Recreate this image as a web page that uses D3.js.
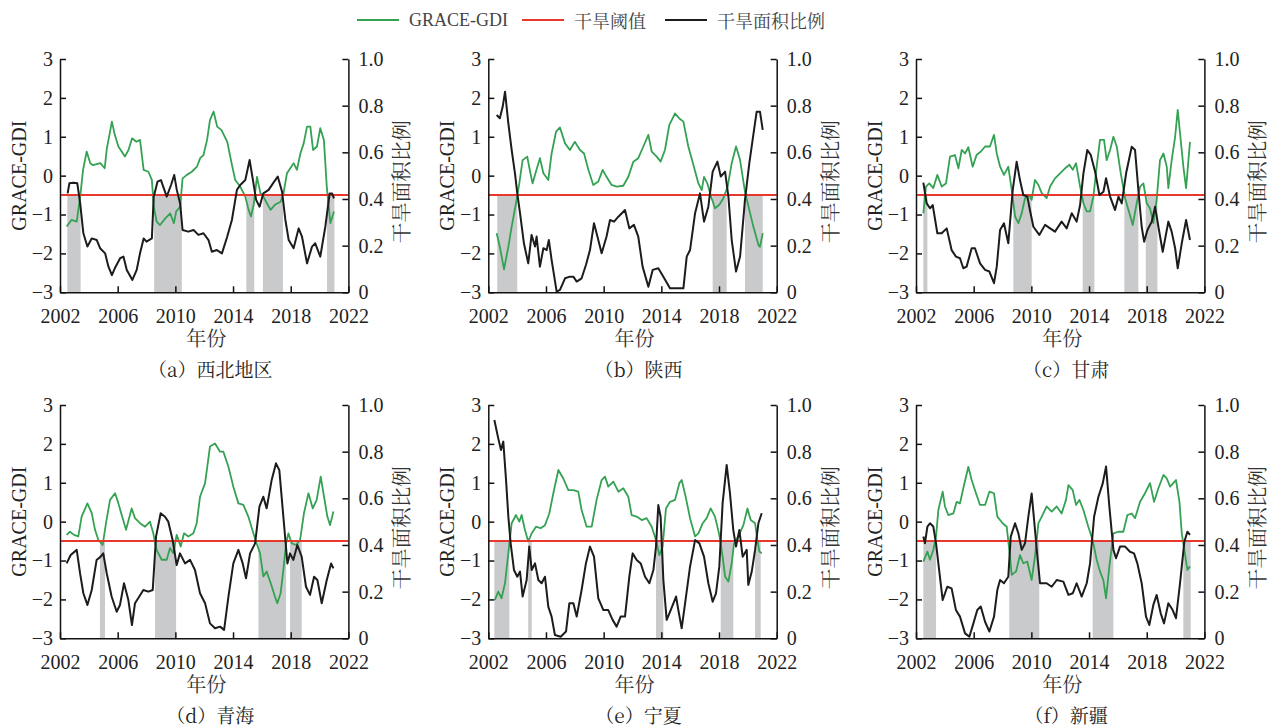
<!DOCTYPE html>
<html><head><meta charset="utf-8">
<script src="https://cdn.jsdelivr.net/npm/d3@7"></script>
<style>body{margin:0;background:#fff}</style>
</head><body>
<svg id="c" width="1280" height="728"></svg>
<script>
// ---------- DATA (decimal year, value) ----------
const panelLabels = ["（a）西北地区","（b）陕西","（c）甘肃","（d）青海","（e）宁夏","（f）新疆"];
const xTicks = [2002,2006,2010,2014,2018,2022];
const gdiTicks = [-3,-2,-1,0,1,2,3];
const ratioTicks = [0,0.2,0.4,0.6,0.8,1.0];
const droughtThreshold = -0.5;
const legendLabels = ["GRACE-GDI","干旱阈值","干旱面积比例"];

const gdi_a = [[2002.46,-1.31],[2002.8,-1.14],[2003.16,-1.18],[2003.4,-0.54],[2003.6,0.15],[2003.85,0.62],[2004.1,0.32],[2004.3,0.27],[2004.8,0.32],[2005.1,0.19],[2005.25,0.70],[2005.6,1.39],[2005.8,1.05],[2006.05,0.75],[2006.5,0.49],[2006.75,0.66],[2007.0,0.96],[2007.3,0.87],[2007.55,0.92],[2007.8,0.15],[2008.13,0.10],[2008.37,-0.11],[2008.5,-0.80],[2008.7,-1.18],[2008.94,-1.27],[2009.3,-1.10],[2009.64,-0.97],[2009.9,-1.22],[2010.06,-0.92],[2010.33,-0.80],[2010.5,-0.07],[2010.8,0.02],[2011.14,0.10],[2011.5,0.23],[2011.72,0.45],[2011.95,0.53],[2012.2,0.92],[2012.4,1.43],[2012.65,1.65],[2012.9,1.26],[2013.2,1.17],[2013.6,0.87],[2013.9,0.32],[2014.15,-0.11],[2014.5,-0.28],[2014.85,-0.54],[2015.08,-0.88],[2015.24,-1.05],[2015.43,-0.75],[2015.66,-0.03],[2015.9,-0.45],[2016.1,-0.54],[2016.35,-0.71],[2016.6,-0.88],[2016.9,-0.75],[2017.3,-0.67],[2017.5,-0.45],[2017.74,0.06],[2017.97,0.19],[2018.2,0.32],[2018.43,0.15],[2018.67,0.57],[2018.9,0.83],[2019.13,1.26],[2019.36,1.26],[2019.55,0.66],[2019.82,0.75],[2020.05,1.22],[2020.3,0.92],[2020.5,-0.28],[2020.75,-1.22],[2021.0,-0.92]];
const ratio_a = [[2002.53,0.424],[2002.65,0.467],[2002.93,0.47],[2003.2,0.467],[2003.4,0.381],[2003.62,0.253],[2003.9,0.196],[2004.2,0.231],[2004.55,0.224],[2004.78,0.189],[2005.13,0.167],[2005.36,0.11],[2005.6,0.074],[2005.8,0.103],[2006.17,0.146],[2006.4,0.153],[2006.63,0.096],[2007.02,0.053],[2007.32,0.096],[2007.55,0.167],[2007.8,0.231],[2008.0,0.217],[2008.37,0.231],[2008.5,0.41],[2008.76,0.474],[2009.0,0.481],[2009.4,0.41],[2009.7,0.46],[2009.92,0.503],[2010.1,0.439],[2010.33,0.381],[2010.5,0.267],[2010.9,0.26],[2011.26,0.267],[2011.6,0.246],[2011.95,0.253],[2012.3,0.224],[2012.53,0.174],[2012.88,0.181],[2013.23,0.167],[2013.6,0.239],[2013.92,0.31],[2014.27,0.439],[2014.5,0.46],[2014.85,0.481],[2015.15,0.567],[2015.38,0.481],[2015.6,0.396],[2015.84,0.367],[2016.1,0.424],[2016.47,0.439],[2016.77,0.467],[2017.1,0.496],[2017.4,0.431],[2017.63,0.31],[2017.86,0.224],[2018.2,0.189],[2018.55,0.274],[2018.78,0.239],[2019.13,0.124],[2019.48,0.196],[2019.7,0.21],[2020.05,0.153],[2020.4,0.281],[2020.7,0.424],[2020.87,0.424],[2021.0,0.403]];
const drought_a = [[2002.51,2003.43],[2008.53,2010.45],[2014.92,2015.47],[2016.07,2017.46],[2020.52,2021.03]];

const gdi_b = [[2002.58,-1.48],[2002.8,-1.83],[2003.09,-2.41],[2003.39,-1.83],[2003.62,-1.31],[2003.92,-0.71],[2004.15,-0.20],[2004.38,0.40],[2004.7,0.49],[2004.9,0.10],[2005.07,-0.20],[2005.3,0.10],[2005.58,0.45],[2005.82,0.06],[2006.16,-0.11],[2006.39,0.57],[2006.7,1.13],[2006.97,1.24],[2007.32,0.83],[2007.66,0.66],[2008.0,0.87],[2008.36,0.66],[2008.64,0.57],[2008.94,0.15],[2009.28,-0.24],[2009.63,-0.15],[2009.93,0.15],[2010.2,-0.03],[2010.55,-0.24],[2010.9,-0.28],[2011.36,-0.26],[2011.71,-0.03],[2012.06,0.36],[2012.4,0.45],[2012.75,0.75],[2013.1,1.05],[2013.33,0.62],[2013.68,0.49],[2013.95,0.36],[2014.25,0.66],[2014.55,1.30],[2014.95,1.60],[2015.25,1.47],[2015.53,1.39],[2015.87,0.75],[2016.22,0.28],[2016.57,-0.20],[2016.8,-0.37],[2016.96,-0.03],[2017.19,-0.20],[2017.49,-0.58],[2017.72,-0.84],[2018.02,-0.75],[2018.3,-0.58],[2018.6,-0.28],[2018.88,0.32],[2019.18,0.75],[2019.46,0.40],[2019.8,-0.41],[2020.1,-0.88],[2020.38,-1.31],[2020.73,-1.78],[2020.84,-1.83],[2021.03,-1.48]];
const ratio_b = [[2002.58,0.76],[2002.8,0.746],[2003.0,0.796],[2003.16,0.86],[2003.39,0.724],[2003.62,0.61],[2003.85,0.51],[2004.01,0.424],[2004.2,0.339],[2004.47,0.21],[2004.77,0.124],[2005.0,0.246],[2005.24,0.196],[2005.35,0.239],[2005.58,0.11],[2005.82,0.189],[2006.05,0.181],[2006.2,0.224],[2006.39,0.139],[2006.74,0.003],[2006.97,0.01],[2007.32,0.06],[2007.66,0.067],[2007.9,0.067],[2008.13,0.046],[2008.47,0.06],[2008.77,0.117],[2009.05,0.181],[2009.33,0.296],[2009.51,0.253],[2009.86,0.167],[2010.2,0.239],[2010.44,0.31],[2010.72,0.303],[2011.02,0.324],[2011.48,0.353],[2011.78,0.274],[2012.1,0.289],[2012.4,0.239],[2012.7,0.11],[2013.1,0.024],[2013.4,0.096],[2013.79,0.103],[2014.14,0.067],[2014.6,0.017],[2015.18,0.017],[2015.53,0.017],[2015.76,0.153],[2015.99,0.181],[2016.34,0.339],[2016.68,0.424],[2016.96,0.303],[2017.26,0.367],[2017.56,0.517],[2017.89,0.56],[2018.12,0.496],[2018.42,0.517],[2018.65,0.41],[2018.88,0.224],[2019.18,0.089],[2019.46,0.153],[2019.8,0.396],[2020.1,0.553],[2020.33,0.653],[2020.61,0.774],[2020.84,0.774],[2021.03,0.696]];
const drought_b = [[2002.62,2004.01],[2017.56,2018.53],[2019.8,2021.03]];

const gdi_c = [[2002.51,-0.97],[2002.69,-0.28],[2002.92,-0.20],[2003.2,-0.32],[2003.48,0.02],[2003.78,-0.28],[2004.08,-0.20],[2004.36,0.49],[2004.7,0.53],[2004.94,0.19],[2005.17,0.66],[2005.4,0.57],[2005.63,0.73],[2005.93,0.23],[2006.2,0.53],[2006.5,0.62],[2006.79,0.75],[2007.13,0.75],[2007.41,1.05],[2007.6,0.57],[2007.83,0.23],[2008.1,0.02],[2008.4,0.23],[2008.64,-0.37],[2008.87,-1.05],[2009.1,-1.22],[2009.33,-0.97],[2009.56,-0.58],[2009.86,-0.50],[2010.02,-0.62],[2010.25,-0.11],[2010.49,-0.24],[2010.72,-0.45],[2011.06,-0.58],[2011.3,-0.28],[2011.64,-0.07],[2011.99,0.06],[2012.34,0.19],[2012.64,0.28],[2012.87,0.15],[2013.1,0.32],[2013.38,-0.28],[2013.61,-0.71],[2013.84,-0.92],[2014.07,-0.92],[2014.3,-0.54],[2014.53,0.23],[2014.76,0.92],[2015.04,0.92],[2015.22,0.40],[2015.46,0.66],[2015.69,1.00],[2015.92,0.75],[2016.2,0.06],[2016.5,-0.58],[2016.73,-0.88],[2017.03,-1.27],[2017.26,-0.80],[2017.54,-0.28],[2017.77,-0.20],[2018.0,-0.71],[2018.23,-0.84],[2018.46,-1.22],[2018.69,-0.62],[2018.92,0.40],[2019.16,0.57],[2019.39,0.23],[2019.5,-0.32],[2019.73,0.40],[2019.97,1.00],[2020.15,1.69],[2020.31,1.09],[2020.54,0.23],[2020.73,-0.32],[2021.0,0.87]];
const ratio_c = [[2002.51,0.47],[2002.74,0.381],[2002.97,0.36],[2003.16,0.374],[2003.48,0.253],[2003.78,0.253],[2004.13,0.274],[2004.47,0.181],[2004.77,0.153],[2005.05,0.146],[2005.28,0.103],[2005.51,0.11],[2005.86,0.189],[2006.09,0.189],[2006.44,0.124],[2006.79,0.096],[2007.09,0.089],[2007.41,0.039],[2007.6,0.11],[2007.83,0.267],[2008.1,0.296],[2008.4,0.21],[2008.71,0.439],[2008.98,0.56],[2009.21,0.481],[2009.44,0.417],[2009.72,0.41],[2009.9,0.353],[2010.14,0.281],[2010.55,0.246],[2010.95,0.289],[2011.3,0.274],[2011.64,0.26],[2012.1,0.303],[2012.45,0.274],[2012.8,0.339],[2013.14,0.303],[2013.38,0.374],[2013.61,0.51],[2013.88,0.61],[2014.12,0.589],[2014.42,0.517],[2014.72,0.417],[2015.0,0.431],[2015.18,0.489],[2015.46,0.41],[2015.8,0.353],[2016.04,0.41],[2016.27,0.381],[2016.57,0.51],[2016.96,0.624],[2017.19,0.61],[2017.42,0.439],[2017.65,0.281],[2017.82,0.217],[2018.05,0.267],[2018.35,0.303],[2018.58,0.367],[2018.81,0.281],[2019.11,0.174],[2019.5,0.303],[2019.73,0.26],[2019.97,0.189],[2020.15,0.103],[2020.43,0.21],[2020.73,0.31],[2021.0,0.224]];
const drought_c = [[2002.51,2002.79],[2008.75,2010.02],[2013.56,2014.37],[2016.45,2017.42],[2017.93,2018.74]];

const gdi_d = [[2002.46,-0.34],[2002.69,-0.26],[2002.97,-0.34],[2003.27,-0.38],[2003.5,0.13],[2003.9,0.47],[2004.2,0.22],[2004.43,-0.21],[2004.66,-0.47],[2004.96,-0.60],[2005.19,-0.04],[2005.47,0.56],[2005.82,0.73],[2006.05,0.47],[2006.28,0.17],[2006.58,-0.21],[2006.97,0.34],[2007.2,0.09],[2007.55,-0.04],[2007.9,-0.13],[2008.24,0.0],[2008.47,-0.30],[2008.7,-0.73],[2009.05,-0.98],[2009.4,-0.98],[2009.63,-0.68],[2009.86,-0.81],[2010.09,-0.34],[2010.37,-0.64],[2010.6,-0.30],[2010.9,-0.38],[2011.25,-0.30],[2011.48,-0.04],[2011.71,0.64],[2012.06,0.99],[2012.4,1.93],[2012.75,2.01],[2013.1,1.80],[2013.33,1.80],[2013.68,1.41],[2014.02,0.90],[2014.37,0.47],[2014.72,0.43],[2015.06,0.13],[2015.41,-0.30],[2015.64,-0.56],[2015.87,-0.81],[2016.1,-1.41],[2016.33,-1.28],[2016.61,-1.58],[2016.91,-1.93],[2017.07,-2.10],[2017.3,-1.84],[2017.49,-1.24],[2017.68,-0.56],[2017.84,-0.30],[2018.07,-0.56],[2018.37,-0.60],[2018.65,-0.47],[2018.92,0.22],[2019.23,0.73],[2019.53,0.34],[2019.8,0.56],[2020.08,1.16],[2020.31,0.64],[2020.54,0.13],[2020.73,-0.09],[2020.96,0.26]];
const ratio_d = [[2002.46,0.321],[2002.74,0.357],[2003.16,0.379],[2003.39,0.279],[2003.62,0.193],[2003.9,0.143],[2004.2,0.207],[2004.54,0.336],[2004.82,0.35],[2005.0,0.364],[2005.24,0.279],[2005.58,0.179],[2005.93,0.114],[2006.16,0.143],[2006.44,0.236],[2006.74,0.164],[2006.99,0.057],[2007.2,0.15],[2007.5,0.179],[2007.78,0.207],[2008.13,0.2],[2008.43,0.207],[2008.66,0.436],[2008.98,0.536],[2009.28,0.521],[2009.51,0.5],[2009.81,0.421],[2010.09,0.314],[2010.32,0.364],[2010.67,0.321],[2011.02,0.336],[2011.36,0.293],[2011.71,0.193],[2012.06,0.15],[2012.4,0.064],[2012.75,0.043],[2013.1,0.05],[2013.38,0.036],[2013.68,0.179],[2014.02,0.321],[2014.37,0.379],[2014.67,0.321],[2014.9,0.257],[2015.18,0.364],[2015.53,0.407],[2015.83,0.564],[2016.1,0.607],[2016.33,0.557],[2016.68,0.679],[2016.98,0.75],[2017.21,0.721],[2017.49,0.521],[2017.77,0.321],[2017.95,0.364],[2018.18,0.336],[2018.46,0.4],[2018.76,0.35],[2019.06,0.221],[2019.34,0.186],[2019.62,0.264],[2019.85,0.25],[2020.15,0.15],[2020.5,0.25],[2020.8,0.321],[2020.96,0.3]];
const drought_d = [[2004.77,2005.12],[2008.59,2010.05],[2015.76,2017.68],[2017.95,2018.76]];

const gdi_e = [[2002.46,-2.01],[2002.69,-1.80],[2002.92,-1.97],[2003.16,-1.58],[2003.39,-0.81],[2003.62,-0.04],[2003.92,0.17],[2004.15,0.0],[2004.31,0.17],[2004.54,-0.21],[2004.77,-0.51],[2005.01,-0.30],[2005.31,-0.13],[2005.63,-0.17],[2005.93,-0.09],[2006.23,0.21],[2006.51,0.73],[2006.86,1.33],[2007.2,1.11],[2007.55,0.81],[2007.9,0.81],[2008.24,0.77],[2008.47,0.30],[2008.82,-0.13],[2009.17,-0.13],[2009.51,0.56],[2009.86,1.07],[2010.09,1.16],[2010.32,0.90],[2010.67,1.03],[2011.02,0.77],[2011.36,0.86],[2011.71,0.64],[2011.94,0.17],[2012.29,0.13],[2012.64,0.04],[2012.98,0.09],[2013.33,-0.13],[2013.63,-0.47],[2013.86,-0.86],[2014.09,-0.64],[2014.32,0.34],[2014.6,0.51],[2014.95,0.56],[2015.25,0.99],[2015.41,1.07],[2015.71,0.60],[2015.99,0.09],[2016.34,-0.38],[2016.57,-0.30],[2016.87,-0.04],[2017.14,0.09],[2017.42,0.34],[2017.72,0.13],[2018.02,-0.34],[2018.25,-0.90],[2018.42,-1.41],[2018.65,-1.54],[2018.88,-1.07],[2019.04,-0.56],[2019.34,-0.38],[2019.69,-0.09],[2019.97,0.34],[2020.2,0.04],[2020.5,-0.04],[2020.66,-0.47],[2020.8,-0.77],[2020.96,-0.81]];
const ratio_e = [[2002.42,0.936],[2002.69,0.857],[2002.88,0.807],[2003.04,0.843],[2003.23,0.679],[2003.39,0.521],[2003.55,0.407],[2003.78,0.293],[2004.01,0.264],[2004.2,0.286],[2004.38,0.179],[2004.66,0.25],[2004.84,0.393],[2005.01,0.293],[2005.24,0.321],[2005.47,0.25],[2005.7,0.236],[2005.93,0.264],[2006.16,0.136],[2006.39,0.093],[2006.62,0.014],[2007.02,0.007],[2007.39,0.029],[2007.62,0.15],[2007.9,0.15],[2008.13,0.093],[2008.47,0.207],[2008.77,0.321],[2009.05,0.393],[2009.33,0.35],[2009.63,0.171],[2009.98,0.121],[2010.32,0.121],[2010.62,0.079],[2010.9,0.05],[2011.18,0.093],[2011.48,0.093],[2011.78,0.264],[2012.01,0.364],[2012.29,0.336],[2012.57,0.321],[2012.87,0.264],[2013.17,0.236],[2013.45,0.293],[2013.63,0.393],[2013.79,0.571],[2013.95,0.521],[2014.14,0.25],[2014.37,0.079],[2014.65,0.121],[2015.02,0.179],[2015.18,0.121],[2015.41,0.043],[2015.71,0.179],[2015.99,0.307],[2016.34,0.421],[2016.64,0.407],[2016.96,0.35],[2017.26,0.236],[2017.56,0.157],[2017.79,0.193],[2018.02,0.307],[2018.25,0.579],[2018.53,0.743],[2018.76,0.621],[2018.99,0.464],[2019.18,0.393],[2019.41,0.464],[2019.64,0.35],[2019.92,0.379],[2020.03,0.229],[2020.27,0.286],[2020.5,0.379],[2020.73,0.493],[2020.96,0.536]];
const drought_e = [[2002.42,2003.46],[2004.77,2005.01],[2013.63,2014.14],[2018.12,2018.99],[2020.5,2020.89]];

const gdi_f = [[2002.51,-1.03],[2002.79,-0.77],[2002.97,-0.98],[2003.2,-0.73],[2003.39,-0.38],[2003.55,0.30],[2003.85,0.77],[2004.01,0.39],[2004.24,0.17],[2004.59,0.21],[2004.82,0.51],[2005.05,0.47],[2005.28,0.86],[2005.63,1.41],[2005.86,1.07],[2006.16,0.73],[2006.44,0.43],[2006.79,0.43],[2007.09,0.77],[2007.41,0.73],[2007.64,0.13],[2008.01,-0.04],[2008.29,-0.13],[2008.47,-0.73],[2008.64,-1.37],[2008.94,-1.28],[2009.21,-0.86],[2009.44,-1.07],[2009.72,-1.03],[2010.02,-1.50],[2010.25,-0.90],[2010.49,-0.04],[2010.72,0.13],[2011.06,0.39],[2011.41,0.26],[2011.76,0.39],[2012.1,0.21],[2012.4,0.56],[2012.57,0.94],[2012.87,0.81],[2013.1,0.43],[2013.33,0.56],[2013.61,0.30],[2013.95,-0.13],[2014.25,-0.47],[2014.53,-0.98],[2014.76,-1.28],[2014.99,-1.50],[2015.18,-1.97],[2015.41,-1.15],[2015.69,-0.30],[2016.03,-0.26],[2016.38,-0.26],[2016.66,0.17],[2016.96,0.21],[2017.19,0.09],[2017.54,0.51],[2017.88,0.73],[2018.23,0.99],[2018.51,0.51],[2018.81,0.86],[2019.16,1.20],[2019.39,1.11],[2019.62,0.90],[2020.03,1.07],[2020.27,0.51],[2020.43,-0.30],[2020.61,-0.73],[2020.82,-1.24],[2021.0,-1.15]];
const ratio_f = [[2002.51,0.436],[2002.62,0.407],[2002.79,0.479],[2002.97,0.493],[2003.2,0.479],[2003.39,0.407],[2003.55,0.321],[2003.85,0.164],[2004.17,0.221],[2004.47,0.214],[2004.77,0.121],[2005.05,0.093],[2005.4,0.021],[2005.7,0.007],[2005.98,0.064],[2006.25,0.121],[2006.49,0.136],[2006.79,0.071],[2007.09,0.029],[2007.41,0.093],[2007.64,0.207],[2007.83,0.25],[2008.1,0.236],[2008.4,0.264],[2008.57,0.436],[2008.87,0.493],[2009.1,0.45],[2009.33,0.379],[2009.56,0.407],[2009.79,0.521],[2010.02,0.621],[2010.21,0.493],[2010.42,0.35],[2010.6,0.236],[2011.06,0.236],[2011.41,0.221],[2011.76,0.25],[2012.22,0.243],[2012.57,0.186],[2012.87,0.193],[2013.14,0.236],[2013.49,0.179],[2013.84,0.236],[2014.07,0.321],[2014.35,0.521],[2014.65,0.607],[2014.95,0.664],[2015.18,0.736],[2015.41,0.564],[2015.69,0.379],[2015.87,0.343],[2016.15,0.393],[2016.5,0.393],[2016.84,0.371],[2017.12,0.364],[2017.35,0.321],[2017.65,0.236],[2017.95,0.093],[2018.18,0.057],[2018.46,0.143],[2018.69,0.186],[2018.97,0.107],[2019.2,0.064],[2019.5,0.15],[2019.8,0.121],[2020.03,0.086],[2020.31,0.236],[2020.61,0.414],[2020.82,0.457],[2021.0,0.443]];
const drought_f = [[2002.51,2003.39],[2008.47,2010.55],[2014.25,2015.69],[2020.54,2021.05]];

// ---------- DRAW ----------
const panels = [
  {label: panelLabels[0], gdi: gdi_a, ratio: ratio_a, drought: drought_a},
  {label: panelLabels[1], gdi: gdi_b, ratio: ratio_b, drought: drought_b},
  {label: panelLabels[2], gdi: gdi_c, ratio: ratio_c, drought: drought_c},
  {label: panelLabels[3], gdi: gdi_d, ratio: ratio_d, drought: drought_d},
  {label: panelLabels[4], gdi: gdi_e, ratio: ratio_e, drought: drought_e},
  {label: panelLabels[5], gdi: gdi_f, ratio: ratio_f, drought: drought_f}
];

const GREEN = "#34a252", RED = "#e8382c", BLACK = "#1c1c1c", SHADE = "#c9cacc";
const LATIN = '"Liberation Serif"';
const CJK = '"Noto Serif CJK SC"';
const svg = d3.select("#c");
svg.append("rect").attr("width",1280).attr("height",728).attr("fill","#fff");

const W = 288.4, H = 233.3;
const lefts = [60, 488.3, 916], tops = [59, 405];

panels.forEach((p, i) => {
  const x0 = lefts[i % 3], y0 = tops[Math.floor(i / 3)];
  const g = svg.append("g").attr("transform", `translate(${x0},${y0})`);
  const x = d3.scaleLinear().domain([xTicks[0], xTicks[xTicks.length-1]]).range([0, W]);
  const yL = d3.scaleLinear().domain([gdiTicks[0], gdiTicks[gdiTicks.length-1]]).range([H, 0]);
  const yR = d3.scaleLinear().domain([ratioTicks[0], ratioTicks[ratioTicks.length-1]]).range([H, 0]);

  g.selectAll("rect.sh").data(p.drought).join("rect").attr("class","sh")
    .attr("x", d => x(d[0])).attr("width", d => x(d[1]) - x(d[0]))
    .attr("y", yL(droughtThreshold)).attr("height", H - yL(droughtThreshold))
    .attr("fill", SHADE);

  g.append("path").datum(p.gdi)
    .attr("d", d3.line().x(d => x(d[0])).y(d => yL(d[1])))
    .attr("fill","none").attr("stroke", GREEN).attr("stroke-width", 1.8).attr("stroke-linejoin","round");

  g.append("line").attr("x1", 0).attr("x2", W)
    .attr("y1", yL(droughtThreshold)).attr("y2", yL(droughtThreshold))
    .attr("stroke", RED).attr("stroke-width", 2);

  g.append("path").datum(p.ratio)
    .attr("d", d3.line().x(d => x(d[0])).y(d => yR(d[1])))
    .attr("fill","none").attr("stroke", BLACK).attr("stroke-width", 2).attr("stroke-linejoin","round");

  const ax = g.append("g").attr("transform", `translate(0,${H})`)
    .call(d3.axisBottom(x).tickValues(xTicks).tickFormat(d3.format("d")).tickSizeInner(-6).tickSizeOuter(0).tickPadding(17));
  const ayl = g.append("g")
    .call(d3.axisLeft(yL).tickValues(gdiTicks).tickFormat(d3.format("d")).tickSizeInner(-6).tickSizeOuter(0).tickPadding(7));
  const ayr = g.append("g").attr("transform", `translate(${W},0)`)
    .call(d3.axisRight(yR).tickValues(ratioTicks).tickFormat(d => d === 0 ? "0" : d.toFixed(1)).tickSizeInner(-6).tickSizeOuter(0).tickPadding(10));
  [ax, ayl, ayr].forEach(a => {
    a.attr("font-size", null).attr("font-family", null);
    a.selectAll(".domain, .tick line").attr("stroke", "#111").attr("stroke-width", 1.5);
    a.selectAll("text").attr("fill", "#222").style("font-family", LATIN).style("font-size", "20px");
  });

  g.append("text").attr("transform", `translate(-41,${H/2}) rotate(-90)`)
    .attr("text-anchor","middle").attr("dominant-baseline","central")
    .style("font-family", LATIN).style("font-size", "20px").attr("fill","#222").text("GRACE-GDI");
  g.append("text").attr("transform", `translate(${W+52},${H/2+6}) rotate(-90)`)
    .attr("text-anchor","middle").attr("dominant-baseline","central")
    .style("font-family", CJK).style("font-size", "20.5px").attr("fill","#333").text(legendLabels[2]);
  g.append("text").attr("x", W/2 + 2).attr("y", H + 45)
    .attr("text-anchor","middle").attr("dominant-baseline","central")
    .style("font-family", CJK).style("font-size", "20px").attr("fill","#333").text("年份");
  g.append("text").attr("x", W/2 + 6).attr("y", H + 76)
    .attr("text-anchor","middle").attr("dominant-baseline","central")
    .style("font-family", CJK).style("font-size", "19px").attr("fill","#222").text(p.label);
});

// legend
const legendColors = [GREEN, RED, BLACK];
const legendX = [357, 522, 665];
legendLabels.forEach((t, i) => {
  svg.append("line").attr("x1", legendX[i]).attr("x2", legendX[i] + 42)
    .attr("y1", 20).attr("y2", 20).attr("stroke", legendColors[i]).attr("stroke-width", 2);
  svg.append("text").attr("x", legendX[i] + 52).attr("y", 20)
    .attr("dominant-baseline","central")
    .style("font-family", i === 0 ? LATIN : CJK).style("font-size", "18px")
    .attr("fill","#444").text(t);
});
</script>
</body></html>
